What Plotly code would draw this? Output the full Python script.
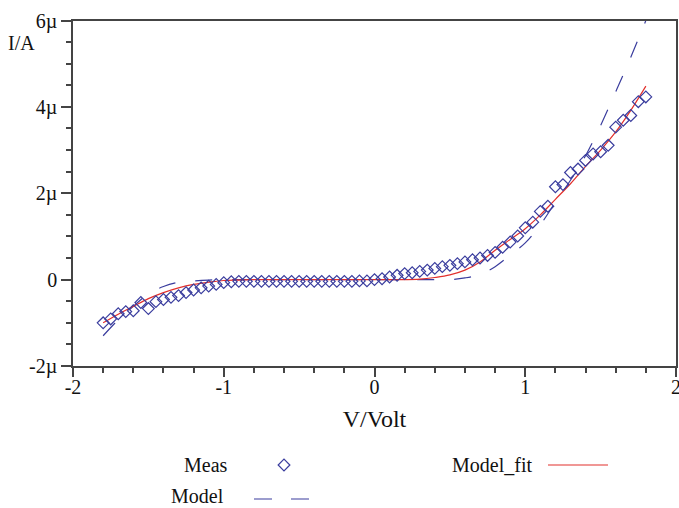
import plotly.graph_objects as go

# ---------------- data (current in µA) ----------------
meas_v = [round(-1.8 + 0.05 * i, 2) for i in range(73)]
meas_i = [
    -1.00, -0.91, -0.79, -0.74, -0.72, -0.53, -0.67, -0.51, -0.46, -0.41,
    -0.37, -0.30, -0.24, -0.19, -0.15, -0.11, -0.07, -0.05, -0.04, -0.04,
    -0.04, -0.04, -0.04, -0.04, -0.04, -0.04, -0.04, -0.04, -0.04, -0.04,
    -0.04, -0.04, -0.04, -0.04, -0.03, -0.03, 0.00, 0.02, 0.06, 0.10,
    0.14, 0.16, 0.19, 0.22, 0.26, 0.30, 0.33, 0.37, 0.41, 0.46,
    0.50, 0.56, 0.63, 0.75, 0.87, 1.01, 1.20, 1.33, 1.58, 1.70,
    2.15, 2.20, 2.48, 2.56, 2.76, 2.91, 2.96, 3.11, 3.53, 3.69,
    3.80, 4.12, 4.23,
]

curve_v = [-1.8, -1.7, -1.6, -1.5, -1.4, -1.3, -1.2, -1.1, -1.0, -0.9,
           -0.8, -0.7, -0.6, -0.5, -0.4, -0.3, -0.2, -0.1, 0.0, 0.1,
           0.2, 0.3, 0.4, 0.5, 0.6, 0.7, 0.8, 0.9, 1.0, 1.1,
           1.2, 1.3, 1.4, 1.5, 1.6, 1.7, 1.8]
model_fit_i = [-1.00, -0.80, -0.62, -0.44, -0.30, -0.19, -0.11, -0.06, -0.02, -0.01,
               0.00, 0.00, 0.00, 0.00, 0.00, 0.00, 0.00, 0.00, 0.00, 0.00,
               0.00, 0.01, 0.05, 0.11, 0.22, 0.41, 0.68, 0.93, 1.18, 1.50,
               1.86, 2.22, 2.62, 3.00, 3.42, 3.92, 4.48]
model_i = [-1.30, -0.93, -0.62, -0.33, -0.16, -0.06, -0.03, -0.01, 0.00, 0.00,
           0.00, 0.00, 0.00, 0.00, 0.00, 0.00, 0.00, 0.00, 0.00, 0.00,
           0.00, 0.00, 0.00, 0.00, 0.04, 0.12, 0.30, 0.57, 0.85, 1.27,
           1.79, 2.30, 2.87, 3.57, 4.35, 5.15, 6.00]

y_tickvals = [-2, 0, 2, 4, 6]
y_ticktext = ["-2µ", "0", "2µ", "4µ", "6µ"]
x_tickvals = [-2, -1, 0, 1, 2]
x_ticktext = ["-2", "-1", "0", "1", "2"]

BLUE = "#3a3d9e"
RED = "#e2302c"
AX = "#444444"
FONT = "Liberation Serif"
W, H = 679, 508

fig = go.Figure()
fig.add_trace(go.Scatter(x=curve_v, y=model_i, mode="lines",
                         line=dict(color=BLUE, width=1.2, dash="17px,20px", shape="spline"),
                         showlegend=False))
fig.add_trace(go.Scatter(x=curve_v, y=model_fit_i, mode="lines",
                         line=dict(color=RED, width=1.2, shape="spline"),
                         showlegend=False))
fig.add_trace(go.Scatter(x=meas_v, y=meas_i, mode="markers",
                         marker=dict(symbol="diamond-open", size=9, color=BLUE,
                                     line=dict(width=1.2, color=BLUE)),
                         showlegend=False))

# legend samples on an overlay pixel-space axis
fig.add_trace(go.Scatter(x=[284], y=[465], xaxis="x2", yaxis="y2", mode="markers",
                         marker=dict(symbol="diamond-open", size=9, color=BLUE,
                                     line=dict(width=1.2, color=BLUE)),
                         showlegend=False, hoverinfo="skip"))
fig.add_trace(go.Scatter(x=[548, 608], y=[465, 465], xaxis="x2", yaxis="y2", mode="lines",
                         line=dict(color=RED, width=1.2), showlegend=False, hoverinfo="skip"))
fig.add_trace(go.Scatter(x=[254, 310], y=[499, 499], xaxis="x2", yaxis="y2", mode="lines",
                         line=dict(color=BLUE, width=1.2, dash="18px,19px"),
                         showlegend=False, hoverinfo="skip"))

x0, x1 = 73 / W, 676 / W
y0, y1 = (H - 366) / H, (H - 20.5) / H

fig.update_layout(
    width=W, height=H,
    margin=dict(l=0, r=0, t=0, b=0),
    paper_bgcolor="white", plot_bgcolor="rgba(0,0,0,0)",
    font=dict(family=FONT, size=20, color="#111"),
    xaxis=dict(domain=[x0, x1], range=[-2, 2], tickvals=x_tickvals, ticktext=x_ticktext,
               ticks="outside", ticklen=9, tickwidth=1.5, tickcolor=AX,
               ticklabelstandoff=-7, ticklabeloverflow="allow",
               minor=dict(dtick=0.2, ticks="outside", ticklen=5, tickwidth=1.5, tickcolor=AX),
               showline=True, linecolor=AX, linewidth=1.5, mirror=True,
               showgrid=False, zeroline=False, automargin=False,
               title=dict(text="V/Volt", standoff=13), anchor="y"),
    yaxis=dict(domain=[y0, y1], range=[-2, 6], tickvals=y_tickvals, ticktext=y_ticktext,
               ticks="outside", ticklen=10, tickwidth=1.5, tickcolor=AX,
               minor=dict(dtick=0.5, ticks="outside", ticklen=5, tickwidth=1.5, tickcolor=AX),
               showline=True, linecolor=AX, linewidth=1.5, mirror=True,
               showgrid=False, zeroline=False, automargin=False, anchor="x"),
    xaxis2=dict(domain=[0, 1], range=[0, W], visible=False, anchor="y2", fixedrange=True),
    yaxis2=dict(domain=[0, 1], range=[H, 0], visible=False, anchor="x2", fixedrange=True),
    annotations=[
        dict(text="I/A", xref="x2", yref="y2", x=6, y=43, xanchor="left", yanchor="middle",
             showarrow=False),
        dict(text="Meas", xref="x2", yref="y2", x=182, y=465, xanchor="left", yanchor="middle",
             showarrow=False),
        dict(text="Model_fit", xref="x2", yref="y2", x=450, y=465, xanchor="left", yanchor="middle",
             showarrow=False),
        dict(text="Model", xref="x2", yref="y2", x=169, y=496, xanchor="left", yanchor="middle",
             showarrow=False),
    ],
)

fig.write_html("out.html", config={"displayModeBar": False},
               post_script="document.body.style.margin='0';")
